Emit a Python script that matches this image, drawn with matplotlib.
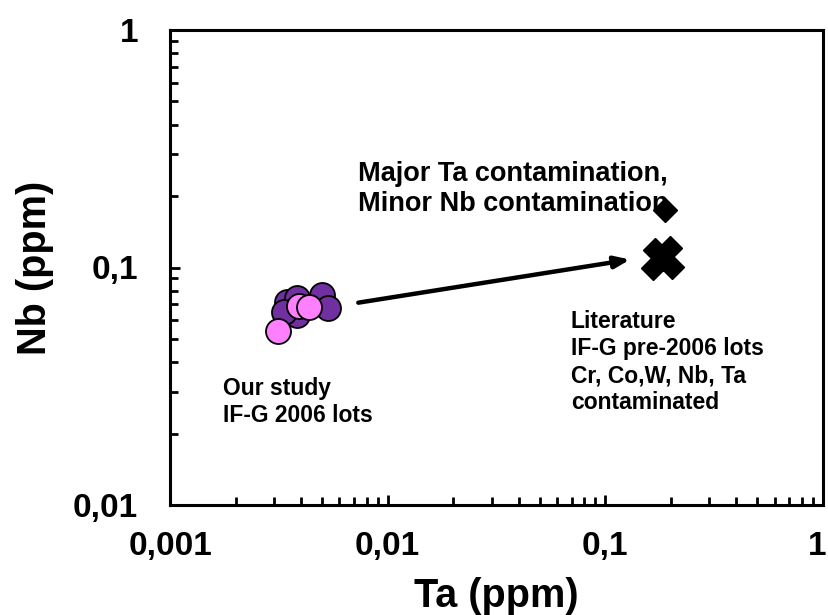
import matplotlib.pyplot as plt
import matplotlib.transforms as mtransforms
from matplotlib.ticker import FixedLocator, FixedFormatter, LogLocator, NullFormatter

plt.rcParams['font.family'] = ['Liberation Sans', 'DejaVu Sans']
plt.rcParams['font.weight'] = 'bold'

# Our study, IF-G 2006 lots (two groups)
ta_purple = [0.00345, 0.00385, 0.00497, 0.00533, 0.00382, 0.00335]
nb_purple = [0.0715, 0.0745, 0.0766, 0.0673, 0.0630, 0.0651]
ta_pink = [0.00313, 0.00392, 0.00436]
nb_pink = [0.0540, 0.0689, 0.0680]

# Literature, IF-G pre-2006 lots
ta_lit = [0.169, 0.198, 0.166, 0.202, 0.185, 0.188]
nb_lit = [0.1185, 0.1205, 0.0991, 0.1008, 0.109, 0.1746]

arrow_from = (0.00733, 0.0711)
arrow_to = (0.130, 0.108)

x_ticks = [0.001, 0.01, 0.1, 1]
x_labels = ['0,001', '0,01', '0,1', '1']
y_ticks = [0.01, 0.1, 1]
y_labels = ['0,01', '0,1', '1']

W, H = 829, 615
fig = plt.figure(figsize=(W / 100, H / 100), dpi=100)
ax = fig.add_axes([170 / W, 1 - 505 / H, 653 / W, 475 / H])

ax.plot(ta_lit, nb_lit, 'D', color='black', markersize=12, zorder=3)
ax.plot(ta_purple, nb_purple, 'o', markerfacecolor='#7030A0', markeredgecolor='black',
        markeredgewidth=1.3, markersize=18, zorder=4)
ax.plot(ta_pink, nb_pink, 'o', markerfacecolor='#FF80FF', markeredgecolor='black',
        markeredgewidth=1.3, markersize=18, zorder=5)

ax.annotate('', xy=arrow_to, xytext=arrow_from,
            arrowprops=dict(arrowstyle='-|>,head_length=0.9,head_width=0.35',
                            color='black', lw=3.2, shrinkA=0, shrinkB=0))

ax.set_xscale('log')
ax.set_yscale('log')
ax.set_xlim(0.001, 1)
ax.set_ylim(0.01, 1)

ax.xaxis.set_major_locator(FixedLocator(x_ticks))
ax.xaxis.set_major_formatter(FixedFormatter(x_labels))
ax.yaxis.set_major_locator(FixedLocator(y_ticks))
ax.yaxis.set_major_formatter(FixedFormatter(y_labels))
ax.xaxis.set_minor_locator(LogLocator(base=10, subs=range(2, 10)))
ax.yaxis.set_minor_locator(LogLocator(base=10, subs=range(2, 10)))
ax.xaxis.set_minor_formatter(NullFormatter())
ax.yaxis.set_minor_formatter(NullFormatter())

ax.tick_params(which='both', direction='in', top=False, right=False, width=2)
ax.tick_params(which='major', length=7, labelsize=24)
ax.tick_params(which='minor', length=6)
ax.tick_params(axis='x', which='major', pad=19)
ax.tick_params(axis='y', which='major', pad=23)
for s in ax.spines.values():
    s.set_linewidth(2.2)

# keep the last x tick label "1" inside the figure edge
last = ax.get_xticklabels()[-1]
last.set_transform(last.get_transform() + mtransforms.ScaledTranslation(-4 / 72, 0, fig.dpi_scale_trans))

ax.set_xlabel('Ta (ppm)', fontsize=28.5, fontweight='bold')
ax.set_ylabel('Nb (ppm)', fontsize=28.5, fontweight='bold')
ax.xaxis.set_label_coords(0.5, -0.152)
ax.yaxis.set_label_coords(-0.178, 0.5)

# annotations sit under the markers, as in the original
ax.text(358 / W, 1 - 161 / H, 'Major Ta contamination,\nMinor Nb contamination',
        transform=fig.transFigure, zorder=2, clip_on=False,
        fontsize=19.5, fontweight='bold', va='top', ha='left', linespacing=1.22)
ax.text(223 / W, 1 - 377 / H, 'Our study\nIF-G 2006 lots',
        transform=fig.transFigure, zorder=2, clip_on=False,
        fontsize=16.5, fontweight='bold', va='top', ha='left', linespacing=1.24)
ax.text(571 / W, 1 - 310 / H, 'Literature\nIF-G pre-2006 lots\nCr, Co,W, Nb, Ta\ncontaminated',
        transform=fig.transFigure, zorder=2, clip_on=False,
        fontsize=16.5, fontweight='bold', va='top', ha='left', linespacing=1.23)

fig.savefig('out.png', dpi=100)
